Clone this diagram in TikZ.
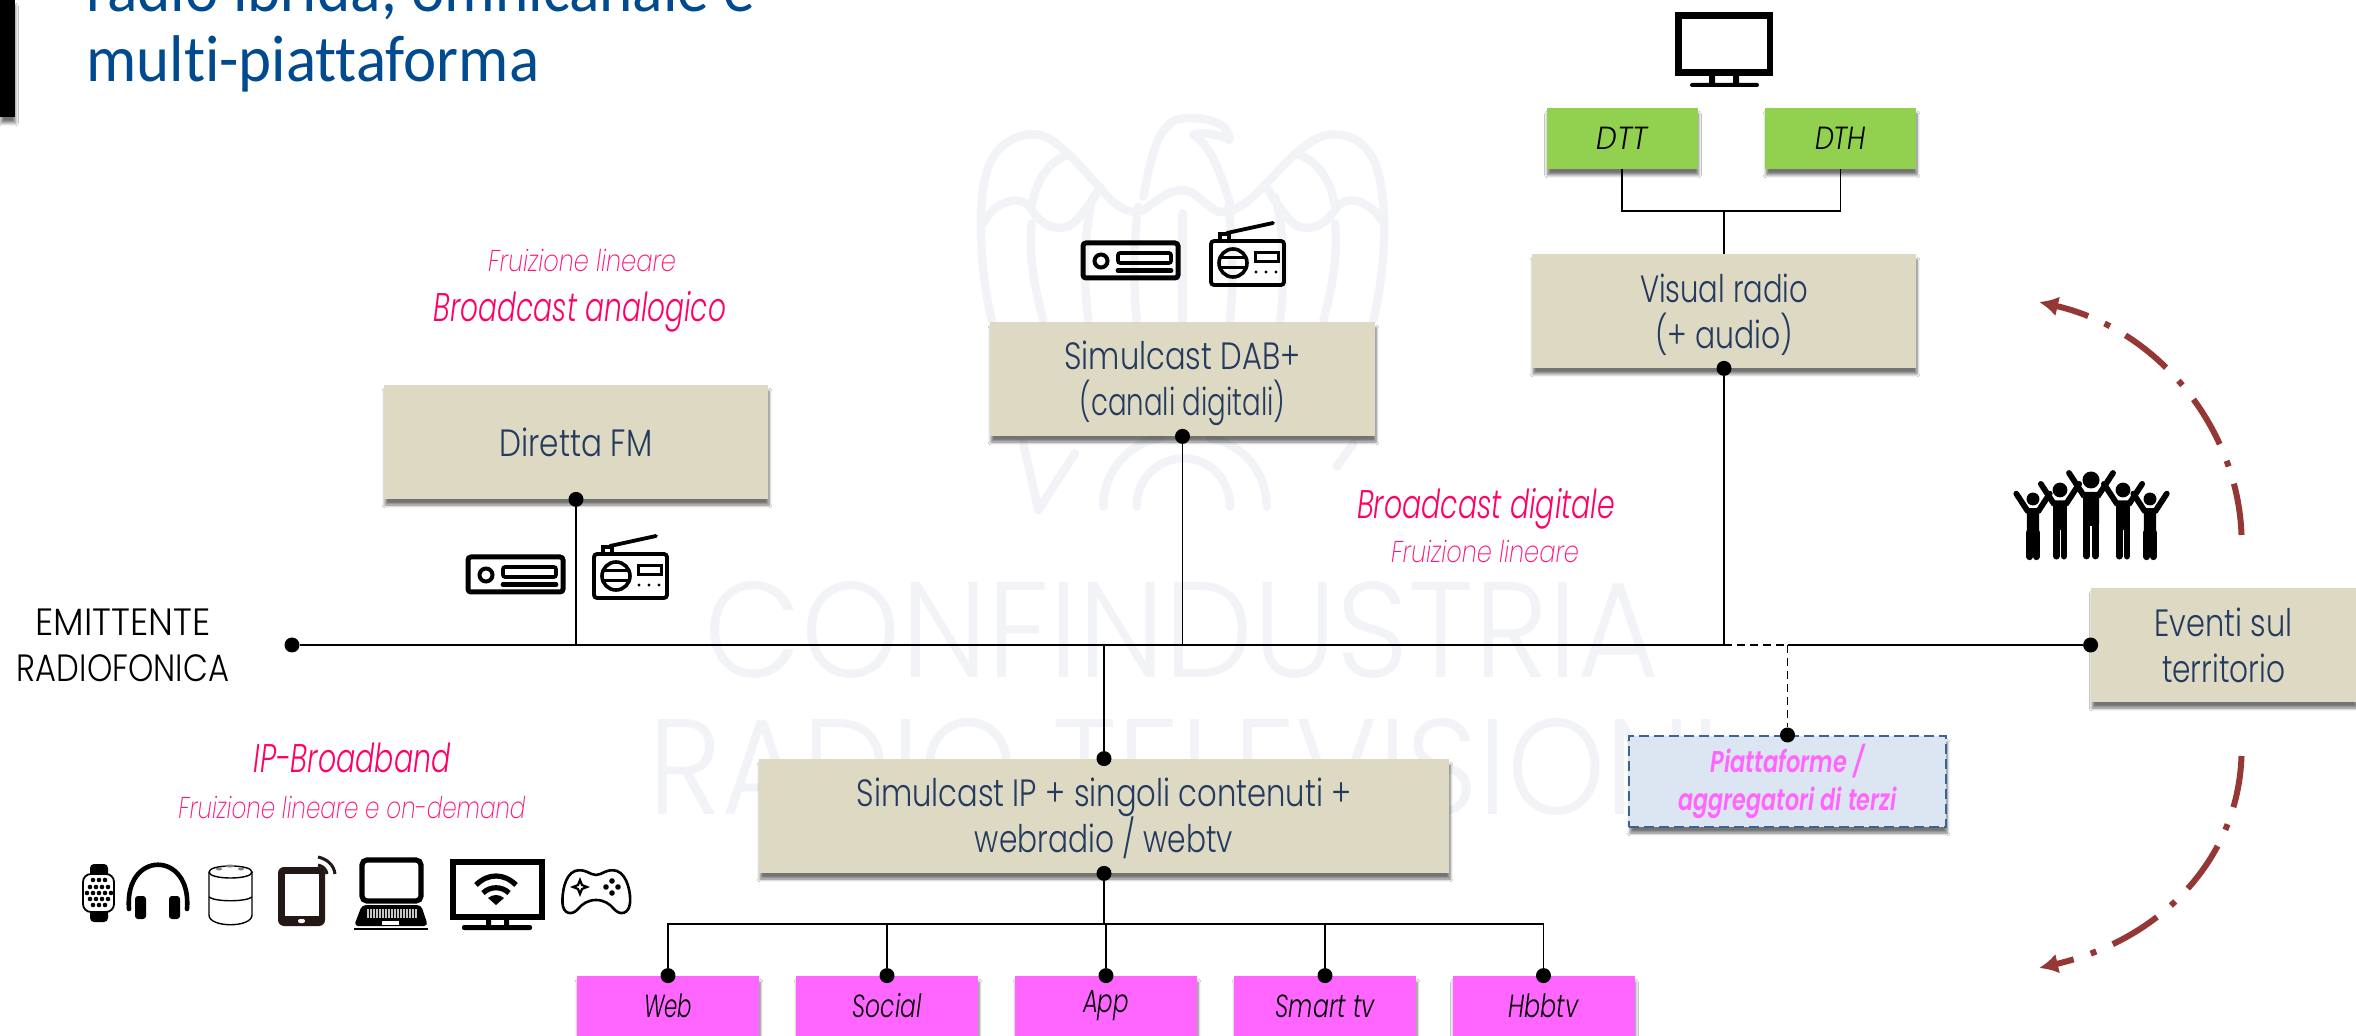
\documentclass[tikz,border=0pt]{standalone}
\usepackage{fontspec}
\usepackage{graphicx}
\usetikzlibrary{shadows.blur,arrows.meta,calc}
\setmainfont{Poppins Light}[ItalicFont={Poppins Light Italic},BoldFont={Poppins SemiBold},BoldItalicFont={Poppins SemiBold Italic}]
\newfontfamily\thingothic{Poppins ExtraLight}[ItalicFont={Poppins ExtraLight Italic}]
\newfontfamily\titlefont{Carlito}[Ligatures=NoCommon]
\newcommand\fitw[2]{\resizebox{#1pt}{\height}{#2}}
\newcommand\downstrut{\rule{0pt}{18.5pt}}
\newcommand\ipstrut{\rule{0pt}{17pt}}
\definecolor{boxtan}{HTML}{DDD9C3}
\definecolor{navytext}{HTML}{243A5E}
\definecolor{hotpink}{HTML}{FF0066}
\definecolor{softpink}{HTML}{FF147C}
\definecolor{magbox}{HTML}{FF66FF}
\definecolor{greenbox}{HTML}{92D050}
\definecolor{blueboxfill}{HTML}{DCE6F2}
\definecolor{blueboxline}{HTML}{3A6496}
\definecolor{arcred}{HTML}{953735}
\definecolor{titleblue}{HTML}{004A8F}
\definecolor{wmark}{HTML}{F1F3F7}
\definecolor{iconbrown}{HTML}{231815}
\tikzset{
  softshadow/.style={blur shadow={shadow xshift=0.5pt,shadow yshift=-3pt,shadow blur steps=6,shadow blur radius=1.4pt,shadow opacity=55}},
  tanbox/.style={fill=boxtan,softshadow,text=navytext,align=center,inner sep=0pt,font=\fontsize{19}{23}\selectfont},
  magentabox/.style={fill=magbox,softshadow,text=black,inner sep=0pt,minimum width=91pt,minimum height=30pt,font=\fontsize{16}{17}\selectfont\itshape},
  limebox/.style={fill=greenbox,softshadow,text=black,inner sep=0pt,minimum width=75.5pt,minimum height=30.5pt,font=\fontsize{16}{17}\selectfont\itshape},
  jdot/.style={circle,fill=black,inner sep=0pt,minimum size=7.5pt},
  wire/.style={draw=black,line width=0.7pt},
  mainwire/.style={draw=black,line width=1.3pt},
  dashwire/.style={draw=black,line width=0.7pt,dash pattern=on 4pt off 2.5pt},
  arcflow/.style={draw=arcred,line width=3pt,dash pattern=on 26pt off 9pt on 3pt off 9pt,-{Latex[length=9.5pt,width=10pt]}},
  headlabel/.style={text=hotpink,inner sep=0pt,font=\fontsize{20}{22}\selectfont\itshape},
  sublabel/.style={text=softpink,inner sep=0pt,font=\thingothic\fontsize{15}{17}\selectfont\itshape},
  wmtext/.style={text=wmark,inner sep=0pt},
  wmline/.style={draw=wmark,line width=4.2pt,line cap=round,line join=round},
  icon/.style={draw=black,line width=2.5pt,rounded corners=1.5pt},
  person/.pic={
    \fill (0,0) circle (8.5);
    \draw[line width=2.9pt,line join=round,line cap=round] (-22,-7) -- (-7,16) -- (7,16) -- (22,-7);
    \fill[rounded corners=1pt] (-8,12) rectangle (8,46);
    \draw[line width=3.4pt,line cap=round] (-4.5,44) -- (-4.5,76);
    \draw[line width=3.4pt,line cap=round] (4.5,44) -- (4.5,76);
  },
  carradio/.pic={
    \draw[icon] (2,2) rectangle (97,37);
    \draw[line width=2pt] (20,20) ellipse (6.5 and 6.5);
    \draw[line width=1.8pt,rounded corners=1pt] (37,12) rectangle (90,22);
    \draw[line width=2.4pt,line cap=round] (37,29.5) -- (90,29.5);
  },
  portable/.pic={
    \draw[icon,line width=1.9pt] (1,19) rectangle (74,63);
    \draw[line width=1.9pt] (10,19) -- (10,12) -- (19,12) -- (19,19);
    \draw[line width=1.9pt,line cap=round] (17,11) -- (63,1);
    \draw[line width=1.8pt] (23,41) circle (14);
    \draw[line width=1.5pt] (10,36) -- (36,36) (10,46) -- (36,46);
    \draw[line width=1.5pt] (45,31) rectangle (68,40);
    \fill (46,50) circle (1.6) (56,50) circle (1.6) (66,50) circle (1.6);
  }
}
\begin{document}
\begin{tikzpicture}[x=0.5pt,y=-0.5pt]
\clip (0,0) rectangle (2356,1036);
\fill[white] (0,0) rectangle (2356,1036);

% watermark
\begin{scope}[shift={(960,90)},x=0.16667pt,y=-0.16667pt]
  \draw[wmline] (95,690) .. controls (55,520) and (50,300) .. (90,220) .. controls (120,150) and (190,125) .. (240,135) .. controls (300,150) and (370,240) .. (430,305) .. controls (470,355) and (530,390) .. (570,345) .. controls (620,310) and (640,300) .. (668,300) .. controls (700,300) and (720,330) .. (750,350) .. controls (790,390) and (850,350) .. (900,300) .. controls (960,240) and (1030,150) .. (1100,135) .. controls (1170,125) and (1220,160) .. (1245,220) .. controls (1285,320) and (1280,520) .. (1240,690);
  \draw[wmline] (550,320) .. controls (570,220) and (590,90) .. (670,85) .. controls (730,80) and (810,95) .. (808,150) .. controls (770,130) and (720,125) .. (700,135) .. controls (760,170) and (790,280) .. (810,340);
  \draw[wmline] (70,400) .. controls (100,340) and (170,310) .. (210,350) .. controls (240,410) and (300,430) .. (340,400) .. controls (370,370) and (400,330) .. (420,290);
  \draw[wmline] (1270,400) .. controls (1240,340) and (1170,310) .. (1130,350) .. controls (1100,410) and (1040,430) .. (1000,400) .. controls (970,370) and (940,330) .. (920,290);
  \draw[wmline] (215,350) .. controls (225,280) and (260,220) .. (320,195);
  \draw[wmline] (1125,350) .. controls (1115,280) and (1080,220) .. (1020,195);
  \draw[wmline] (215,400) .. controls (205,500) and (225,600) .. (250,690);
  \draw[wmline] (1125,400) .. controls (1135,500) and (1115,600) .. (1090,690);
  \draw[wmline] (400,320) .. controls (370,420) and (370,580) .. (385,690);
  \draw[wmline] (945,320) .. controls (975,420) and (975,580) .. (960,690);
  \draw[wmline] (535,350) .. controls (520,450) and (520,600) .. (530,690);
  \draw[wmline] (805,350) .. controls (820,450) and (820,600) .. (810,690);
  \draw[wmline] (668,370) -- (668,690);
  \draw[wmline] (190,1060) -- (235,1260) -- (345,1090);
  \draw[wmline] (1180,1060) -- (1130,1130);
  \draw[wmline] (430,1250) .. controls (430,1150) and (500,1060) .. (600,1045);
  \draw[wmline] (920,1250) .. controls (920,1150) and (850,1060) .. (750,1045);
  \draw[wmline] (530,1250) .. controls (530,1160) and (600,1105) .. (670,1105) .. controls (750,1105) and (810,1170) .. (810,1250);
\end{scope}
\node[wmtext,anchor=center] (wmA) at (1182,630) {\resizebox{477pt}{48pt}{CONFINDUSTRIA}};
\node[wmtext,anchor=center] (wmB) at (1184,767) {\resizebox{536pt}{48pt}{RADIO TELEVISIONI}};

% title
\fill[black,softshadow] (0,0) rectangle (14.5,117);
\node[anchor=base west,inner sep=0pt,text=titleblue,font=\titlefont\fontsize{33}{35}\selectfont] (titleA) at (86,12) {\fitw{334.5}{radio ibrida, omnicanale e}};
\node[anchor=base west,inner sep=0pt,text=titleblue,font=\titlefont\fontsize{33}{35}\selectfont] (titleB) at (86,82) {\fitw{226.5}{multi-piattaforma}};

% labels
\node[sublabel] (lA) at (582,261) {\fitw{94}{Fruizione lineare}};
\node[headlabel] (lB) at (580,312) {\fitw{146}{Broadcast analogico}};
\node[headlabel] (lC) at (1486,509) {\fitw{129}{Broadcast digitale}};
\node[sublabel] (lD) at (1485,552) {\fitw{94}{Fruizione lineare}};
\node[headlabel] (lE) at (352,758) {\fitw{98.5}{IP-Broadband}};
\node[sublabel] (lF) at (352,808) {\fitw{173.5}{Fruizione lineare e on-demand}};
\node[inner sep=0pt,align=center,text=black,font=\fontsize{19}{23}\selectfont] (src) at (123,645) {\fitw{87.5}{EMITTENTE}\\\fitw{106}{RADIOFONICA}};

% boxes
\node[tanbox,minimum width=192pt,minimum height=57pt] (bDir) at (576,442) {\fitw{76.5}{Diretta FM}};
\node[tanbox,minimum width=192.5pt,minimum height=57pt] (bDab) at (1182.5,379) {\downstrut\fitw{118}{Simulcast DAB+}\\\fitw{103}{(canali digitali)}};
\node[tanbox,minimum width=192pt,minimum height=57pt] (bVis) at (1724,311) {\downstrut\fitw{84}{Visual radio}\\\fitw{69}{(+ audio)}};
\node[tanbox,minimum width=345pt,minimum height=57pt] (bIP) at (1104,816) {\ipstrut\fitw{247.5}{Simulcast IP + singoli contenuti +}\\\fitw{129}{webradio / webtv}};
\node[tanbox,minimum width=132.5pt,minimum height=57pt] (bEv) at (2223.5,645) {\fitw{69}{Eventi sul}\\\fitw{61.5}{territorio}};
\node[limebox] (bDTT) at (1622,138.5) {\fitw{25.5}{DTT}};
\node[limebox] (bDTH) at (1840.5,138.5) {\fitw{25.5}{DTH}};
\node[draw=blueboxline,fill=blueboxfill,line width=1pt,dash pattern=on 5pt off 2.5pt,softshadow,minimum width=158.5pt,minimum height=45.5pt,inner sep=0pt,align=center,text=magbox,font=\bfseries\itshape\fontsize{15}{19}\selectfont] (bPia) at (1787.5,781.5) {\fitw{77}{Piattaforme /}\\\fitw{109}{aggregatori di terzi}};
\node[magentabox] (bWeb) at (668,1006) {\fitw{24}{Web}};
\node[magentabox] (bSoc) at (887,1006) {\fitw{34.5}{Social}};
\node[magentabox] (bApp) at (1106,1006) {\fitw{23}{App}};
\node[magentabox] (bSma) at (1325,1006) {\fitw{49.5}{Smart tv}};
\node[magentabox] (bHbb) at (1543.5,1006) {\fitw{35}{Hbbtv}};

% junction dots
\node[jdot] (dMain) at (292,645) {};
\node[jdot] (dDir) at (bDir.south) {};
\node[jdot] (dDab) at (bDab.south) {};
\node[jdot] (dVis) at (bVis.south) {};
\node[jdot] (dIPt) at (bIP.north) {};
\node[jdot] (dIPb) at (bIP.south) {};
\node[jdot] (dEv) at (bEv.west) {};
\node[jdot] (dPia) at (bPia.north) {};
\node[jdot] (dWeb) at (bWeb.north) {};
\node[jdot] (dSoc) at (bSoc.north) {};
\node[jdot] (dApp) at (bApp.north) {};
\node[jdot] (dSma) at (bSma.north) {};
\node[jdot] (dHbb) at (bHbb.north) {};
\coordinate (jDir) at (dDir |- dMain);
\coordinate (jDab) at (dDab |- dMain);
\coordinate (jVis) at (dVis |- dMain);
\coordinate (jIP) at (dIPt |- dMain);
\coordinate (jPia) at (dPia |- dMain);
\coordinate (cTop) at (1724,211);
\coordinate (cBus) at (1104,924);

% connectors
\draw[mainwire] (dMain) -- (jVis);
\draw[dashwire] (jVis) -- (jPia);
\draw[wire] (jPia) -- (dEv);
\draw[wire] (dDir) -- (jDir);
\draw[wire] (dDab) -- (jDab);
\draw[wire] (dVis) -- (jVis);
\draw[wire] (jIP) -- (dIPt);
\draw[dashwire] (jPia) -- (dPia);
\draw[wire] (bDTT.south) |- (cTop) -| (bDTH.south);
\draw[wire] (cTop) -- (bVis.north);
\draw[wire] (dIPb) -- (cBus);
\draw[wire] (dWeb) |- (cBus) -| (dHbb);
\draw[wire] (dSoc) -- (dSoc |- cBus);
\draw[wire] (dApp) -- (dApp |- cBus);
\draw[wire] (dSma) -- (dSma |- cBus);

% circular arrows
\coordinate (aS) at (2241.5,535);
\coordinate (aE) at (2039,302);
\coordinate (bS) at (2241.5,756);
\coordinate (bE) at (2039,968);
\draw[arcflow] (aS) .. controls (2238,430) and (2160,330) .. (aE);
\draw[arcflow] (bS) .. controls (2238,860) and (2160,940) .. (bE);

% radios
\pic at (466,555) {carradio};
\pic at (593,535) {portable};
\pic at (1081,241) {carradio};
\pic at (1210,222) {portable};

% top tv
\begin{scope}[shift={(1677,12)}]
  \draw[line width=3.4pt] (1.5,3.5) rectangle (93,60.5);
  \fill (32,64) rectangle (38,72) (56,64) rectangle (62,72);
  \fill[rounded corners=1pt] (13,71) rectangle (82,75);
\end{scope}

% people
\begin{scope}[shift={(2091,480)}]
  \pic at (0,0) {person};
  \pic[scale=0.87] at (-31,10) {person};
  \pic[scale=0.87] at (32,10) {person};
  \pic[scale=0.76] at (-58,19) {person};
  \pic[scale=0.76] at (59,19) {person};
\end{scope}

% watch
\fill[rounded corners=2pt] (90,864) rectangle (108,878);
\fill[rounded corners=2pt] (90,908) rectangle (108,922);
\draw[fill=white,line width=0.9pt,rounded corners=4pt] (83,874) rectangle (114,912);
\foreach \px/\py in {93/880,99/880,105/880,90/887,96/887,102/887,108/887,87/893,93/893,99/893,105/893,111/893,90/899,96/899,102/899,108/899,93/905,99/905,105/905}{
  \fill (\px,\py) circle (2.3);
}
% headphones
\draw[line width=2.3pt,line cap=round] (129,909) .. controls (124,850) and (192,850) .. (187,909);
\fill[rounded corners=1.5pt] (135,896) rectangle (146,919);
\fill[rounded corners=1.5pt] (169,896) rectangle (180,919);
% smart speaker
\draw[line width=0.7pt] (209,872) .. controls (209,864) and (252,864) .. (252,872) .. controls (252,880) and (209,880) .. (209,872);
\draw[line width=0.7pt] (209,872) -- (209,915) .. controls (209,928) and (252,928) .. (252,915) -- (252,872);
\draw[line width=0.7pt] (209,897) .. controls (215,902) and (246,902) .. (252,897);
\fill[gray] (230,866) ellipse (5 and 1.5) (219,869) ellipse (3 and 1.5) (241,869) ellipse (3 and 1.5);
% phone
\fill[iconbrown,rounded corners=3pt] (278,867) rectangle (325,926);
\fill[white] (284.5,873.5) rectangle (319,916);
\fill[white,rounded corners=1pt] (298,919) rectangle (305,923);
\draw[iconbrown,line width=1.5pt] (318,857) .. controls (327,859) and (334,865) .. (335,874);
\draw[iconbrown,line width=1.5pt] (318,865) .. controls (323,866) and (326,869) .. (327,874);
% laptop
\draw[line width=2.6pt,rounded corners=2.5pt] (362,860) rectangle (421,901);
\fill[rounded corners=2pt] (362,905) -- (421,905) -- (428,926) -- (354,926) -- cycle;
\fill[gray!45] (367,909) rectangle (417,918);
\foreach \kx in {369,372,...,415}{\draw[line width=0.4pt] (\kx,909) -- (\kx,918);}
\fill[white] (382,921) rectangle (399,925);
\fill[black] (354,928) rectangle (428,930);
% wifi tv
\draw[line width=3pt] (452.5,862) rectangle (542,917);
\fill (486,920) rectangle (491,925) (504,920) rectangle (509,925);
\fill[rounded corners=1pt] (462,925) rectangle (532,930);
\draw[line width=2.6pt] (476,885) .. controls (488,873) and (504,873) .. (516,885);
\draw[line width=2.6pt] (483,893) .. controls (490,886) and (502,886) .. (509,893);
\fill (488,898) .. controls (493,894) and (499,894) .. (504,898) -- (496,905) -- cycle;
% gamepad
\draw[line width=1.3pt] (575,871) .. controls (585,868) and (590,875) .. (596,875) .. controls (602,875) and (607,868) .. (617,871) .. controls (628,875) and (631,895) .. (630,903) .. controls (629,914) and (620,916) .. (614,909) .. controls (610,904) and (604,900) .. (596,900) .. controls (588,900) and (582,904) .. (578,909) .. controls (572,916) and (563,914) .. (562.5,903) .. controls (562,895) and (564,875) .. (575,871) -- cycle;
\draw[line width=1.1pt] (580,880) -- (582,885) -- (587,887) -- (582,889) -- (580,894) -- (578,889) -- (573,887) -- (578,885) -- cycle;
\fill (612,881) circle (2.8) (612,893) circle (2.8) (606,887) circle (2.8) (618,887) circle (2.8);
\end{tikzpicture}
\end{document}
